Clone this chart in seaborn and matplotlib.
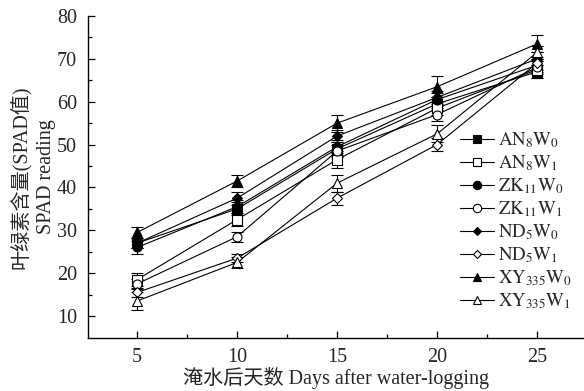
import numpy as np
import pandas as pd
import seaborn as sns
import matplotlib
matplotlib.use('Agg')
import matplotlib.pyplot as plt
from matplotlib.lines import Line2D

# Data (SPAD reading vs days after water-logging)
days = [5, 10, 15, 20, 25]
labels = ['AN8W0', 'AN8W1', 'ZK11W0', 'ZK11W1', 'ND5W0', 'ND5W1', 'XY335W0', 'XY335W1']
legend_labels = [r'$\mathrm{AN_8W_0}$', r'$\mathrm{AN_8W_1}$',
                 r'$\mathrm{ZK_{11}W_0}$', r'$\mathrm{ZK_{11}W_1}$',
                 r'$\mathrm{ND_5W_0}$', r'$\mathrm{ND_5W_1}$',
                 r'$\mathrm{XY_{335}W_0}$', r'$\mathrm{XY_{335}W_1}$']

AN8W0 = [27.0, 35.0, 49.0, 59.5, 67.0]
AN8W1 = [18.5, 32.5, 46.5, 58.5, 67.5]
ZK11W0 = [26.0, 35.5, 49.5, 60.5, 68.5]
ZK11W1 = [17.5, 28.5, 48.5, 57.0, 68.0]
ND5W0 = [27.0, 37.5, 52.0, 61.0, 70.0]
ND5W1 = [15.5, 23.5, 37.5, 50.0, 69.0]
XY335W0 = [29.5, 41.5, 55.0, 63.5, 73.5]
XY335W1 = [13.5, 22.5, 41.0, 52.5, 71.5]

AN8W0_sd = [1.2, 1.5, 1.5, 1.5, 1.5]
AN8W1_sd = [1.5, 1.5, 2.0, 1.5, 2.0]
ZK11W0_sd = [1.5, 1.5, 1.5, 1.5, 1.5]
ZK11W1_sd = [1.2, 1.2, 1.5, 1.5, 1.5]
ND5W0_sd = [1.2, 1.5, 1.5, 1.5, 1.5]
ND5W1_sd = [1.0, 1.0, 1.5, 1.5, 1.5]
XY335W0_sd = [1.2, 1.5, 2.0, 2.5, 2.0]
XY335W1_sd = [2.0, 1.2, 2.0, 2.0, 1.5]

values = [AN8W0, AN8W1, ZK11W0, ZK11W1, ND5W0, ND5W1, XY335W0, XY335W1]
errors = [AN8W0_sd, AN8W1_sd, ZK11W0_sd, ZK11W1_sd, ND5W0_sd, ND5W1_sd, XY335W0_sd, XY335W1_sd]

markers = ['s', 's', 'o', 'o', 'D', 'D', '^', '^']
filled = [True, False, True, False, True, False, True, False]

rows = []
for name, vals in zip(labels, values):
    for d, v in zip(days, vals):
        rows.append({'day': d, 'spad': v, 'group': name})
df = pd.DataFrame(rows)

sns.set_style('ticks')
plt.rcParams['font.family'] = ['Liberation Serif', 'Noto Sans CJK SC']
plt.rcParams['mathtext.fontset'] = 'stix'
plt.rcParams['xtick.direction'] = 'in'
plt.rcParams['ytick.direction'] = 'in'

fig = plt.figure(figsize=(5.84, 3.91), dpi=100)
ax = fig.add_axes([0.151, 0.136, 0.849, 0.823])

sns.lineplot(data=df, x='day', y='spad', hue='group', palette=['black'] * 8,
             legend=False, linewidth=0.8, ax=ax, zorder=2)

# error bars and markers
for i, name in enumerate(labels):
    ax.errorbar(days, values[i], yerr=errors[i], fmt='none', ecolor='black',
                elinewidth=0.8, capsize=4, capthick=0.8, zorder=3)
    ms = 6.5 if markers[i] != 'D' else 5
    ax.plot(days, values[i], linestyle='none', marker=markers[i], markersize=ms,
            markeredgecolor='black', markeredgewidth=0.8,
            markerfacecolor='black' if filled[i] else 'white', zorder=4)

ax.set_xlim(2.55, 27.35)
ax.set_ylim(4.9, 80)
ax.set_xticks(days)
ax.set_xticks([7.5, 12.5, 17.5, 22.5], minor=True)
ax.set_yticks([10, 20, 30, 40, 50, 60, 70, 80])
ax.set_yticks([15, 25, 35, 45, 55, 65, 75], minor=True)
ax.tick_params(axis='both', which='major', length=5, width=0.9, labelsize=14.5, color='black')
ax.tick_params(axis='both', which='minor', length=3, width=0.9, color='black')
ax.tick_params(axis='x', pad=7)
ax.tick_params(axis='y', pad=8)

for s in ['top', 'right']:
    ax.spines[s].set_visible(False)
for s in ['left', 'bottom']:
    ax.spines[s].set_linewidth(1.0)
    ax.spines[s].set_color('black')

ax.set_xlabel('淹水后天数 Days after water-logging', fontsize=14.5, labelpad=0)
ax.set_ylabel('叶绿素含量(SPAD值)\nSPAD reading', fontsize=14.5, labelpad=1,
              linespacing=1.4)

handles = []
for i in range(8):
    ms = 6 if markers[i] != 'D' else 4.5
    handles.append(Line2D([0], [0], color='black', linewidth=0.8, marker=markers[i],
                          markersize=ms, markeredgecolor='black', markeredgewidth=0.8,
                          markerfacecolor='black' if filled[i] else 'white'))
ax.legend(handles, legend_labels, loc='upper left', bbox_to_anchor=(0.75, 0.645),
          frameon=False, fontsize=13.5, handlelength=1.8, handletextpad=0.2,
          labelspacing=0.18, borderaxespad=0, borderpad=0)

fig.savefig('out.png', dpi=100)
